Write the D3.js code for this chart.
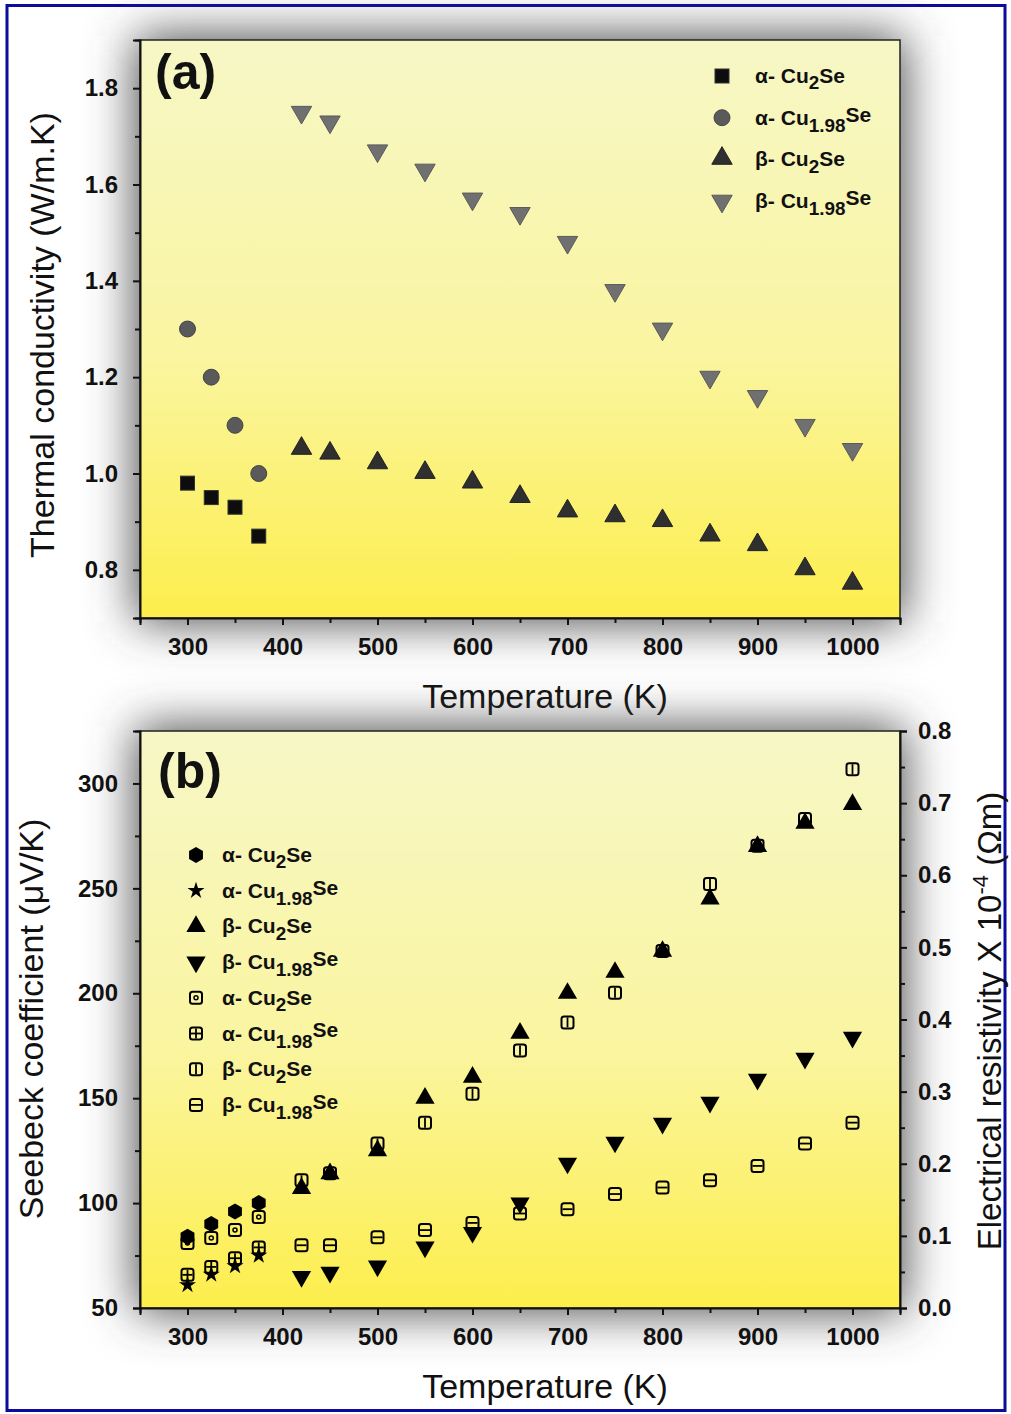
<!DOCTYPE html>
<html>
<head>
<meta charset="utf-8">
<script src="https://cdn.jsdelivr.net/npm/d3@7"></script>
<style>
  body { margin: 0; background: #fff; }
  text { font-family: "Liberation Sans", Arial, sans-serif; }
</style>
</head>
<body>
<div id="chart"></div>
<script>
// temperatures (K)
const tempAlpha = [300, 325, 350, 375];
const tempBeta = [420, 450, 500, 550, 600, 650, 700, 750, 800, 850, 900, 950, 1000];

// (a) thermal conductivity (W/m.K)
const kAlphaCu2Se = [0.98, 0.95, 0.93, 0.87];
const kAlphaCu198Se = [1.30, 1.20, 1.10, 1.00];
const kBetaCu2Se = [1.05, 1.04, 1.02, 1.00, 0.98, 0.95, 0.92, 0.91, 0.90, 0.87, 0.85, 0.80, 0.77];
const kBetaCu198Se = [1.75, 1.73, 1.67, 1.63, 1.57, 1.54, 1.48, 1.38, 1.30, 1.20, 1.16, 1.10, 1.05];

// (b) seebeck coefficient (uV/K)
const sAlphaCu2Se = [84, 90, 96, 100];
const sAlphaCu198Se = [61, 66, 70, 75];
const sBetaCu2Se = [107, 114, 125, 150, 160, 181, 200, 210, 220, 245, 270, 281, 290];
const sBetaCu198Se = [65, 67, 70, 79, 86, 100, 119, 129, 138, 148, 159, 169, 179];

// (b) electrical resistivity (x 10^-4 Ohm m)
const rAlphaCu2Se = [0.09, 0.097, 0.108, 0.126];
const rAlphaCu198Se = [0.046, 0.057, 0.069, 0.084];
const rBetaCu2Se = [0.177, 0.187, 0.228, 0.257, 0.297, 0.357, 0.396, 0.437, 0.495, 0.588, 0.641, 0.678, 0.747];
const rBetaCu198Se = [0.087, 0.087, 0.098, 0.108, 0.118, 0.131, 0.137, 0.158, 0.167, 0.177, 0.197, 0.228, 0.257];

// legend labels
const phases = ['α-', 'α-', 'β-', 'β-'];
const subs = ['2', '1.98', '2', '1.98'];

// ticks
const xMajor = [300, 400, 500, 600, 700, 800, 900, 1000];
const xMinor = [250, 350, 450, 550, 650, 750, 850, 950, 1050];
const kMajor = [0.8, 1.0, 1.2, 1.4, 1.6, 1.8];
const kMinor = [0.7, 0.9, 1.1, 1.3, 1.5, 1.7, 1.9];
const sMajor = [50, 100, 150, 200, 250, 300];
const sMinor = [75, 125, 175, 225, 275, 325];
const rMajor = [0, 0.1, 0.2, 0.3, 0.4, 0.5, 0.6, 0.7, 0.8];
const rMinor = [0.05, 0.15, 0.25, 0.35, 0.45, 0.55, 0.65, 0.75];

const W = 1011, H = 1414;
const left = 140, right = 900;

const svg = d3.select('#chart').append('svg')
  .attr('width', W).attr('height', H);

const defs = svg.append('defs');
const blur = defs.append('filter').attr('id', 'halo')
  .attr('x', '-30%').attr('y', '-30%').attr('width', '160%').attr('height', '160%');
blur.append('feGaussianBlur').attr('stdDeviation', 24);

const grad = defs.append('linearGradient').attr('id', 'yellow')
  .attr('x1', 0).attr('y1', 0).attr('x2', 0).attr('y2', 1);
grad.append('stop').attr('offset', '0%').attr('stop-color', '#f7f7c6');
grad.append('stop').attr('offset', '55%').attr('stop-color', '#faf5a0');
grad.append('stop').attr('offset', '100%').attr('stop-color', '#fdee4c');

const x = d3.scaleLinear().domain([250, 1050]).range([left, right]);
const ya = d3.scaleLinear().domain([0.7, 1.9]).range([618, 40]);
const yb = d3.scaleLinear().domain([50, 325]).range([1308, 731]);
const yr = d3.scaleLinear().domain([0, 0.8]).range([1308, 731]);

function frame(top, bottom) {
  svg.append('rect')
    .attr('x', left - 4).attr('y', top - 4)
    .attr('width', right - left + 8).attr('height', bottom - top + 8)
    .attr('fill', '#4a4a4a')
    .attr('filter', 'url(#halo)');
  svg.append('rect')
    .attr('x', left).attr('y', top)
    .attr('width', right - left).attr('height', bottom - top)
    .attr('fill', 'url(#yellow)')
    .attr('stroke', '#222').attr('stroke-width', 1.5);
}

function styleAxis(g, size) {
  g.select('.domain').attr('stroke', '#111').attr('stroke-width', 2);
  g.selectAll('.tick line').attr('stroke', '#111').attr('stroke-width', 2);
  g.selectAll('.tick text')
    .attr('font-size', size).attr('font-weight', 'bold').attr('fill', '#111')
    .attr('font-family', '"Liberation Sans", Arial, sans-serif');
}

function xAxis(yPos) {
  const g = svg.append('g').attr('transform', `translate(0,${yPos})`);
  g.call(d3.axisBottom(x).tickValues(xMajor).tickSize(7).tickPadding(13).tickFormat(d3.format('d')));
  styleAxis(g, 24);
  const m = svg.append('g').attr('transform', `translate(0,${yPos})`);
  m.call(d3.axisBottom(x).tickValues(xMinor).tickSize(5).tickFormat(''));
  styleAxis(m, 24);
  m.select('.domain').remove();
}

function yAxis(scale, major, minor, fmt, xPos, side) {
  const axisFn = side === 'left' ? d3.axisLeft : d3.axisRight;
  const g = svg.append('g').attr('transform', `translate(${xPos},0)`);
  g.call(axisFn(scale).tickValues(major).tickSize(7).tickPadding(side === 'left' ? 15 : 11).tickFormat(fmt));
  styleAxis(g, 24);
  const m = svg.append('g').attr('transform', `translate(${xPos},0)`);
  m.call(axisFn(scale).tickValues(minor).tickSize(5).tickFormat(''));
  styleAxis(m, 24);
  m.select('.domain').remove();
}

function title(txt, cx, cy, rotate) {
  const t = svg.append('text')
    .attr('font-size', 34).attr('fill', '#111')
    .attr('text-anchor', 'middle')
    .attr('transform', `translate(${cx},${cy})` + (rotate ? ' rotate(-90)' : ''));
  return t.text(txt);
}

function legendText(g, phase, sub, fs) {
  const t = g.append('text').attr('font-size', fs).attr('font-weight', 'bold').attr('fill', '#111');
  t.append('tspan').text(phase + ' Cu');
  if (sub === '2') {
    t.append('tspan').attr('dy', fs * 0.3).attr('font-size', fs * 0.9).text(sub);
    t.append('tspan').attr('dy', -fs * 0.3).text('Se');
  } else {
    t.append('tspan').attr('dy', fs * 0.35).attr('font-size', fs * 0.9).text(sub);
    t.append('tspan').attr('dy', -fs * 0.5).text('Se');
  }
}

// shapes
const sym = (type, size) => d3.symbol().type(type).size(size)();
const hexPath = (r) => d3.line()(d3.range(6).map(i => {
  const a = Math.PI / 6 + i * Math.PI / 3;
  return [r * Math.cos(a), r * Math.sin(a)];
})) + 'Z';

// marker drawers
function markA(g, kind) {
  if (kind === 0) g.append('rect').attr('x', -7).attr('y', -7).attr('width', 14).attr('height', 14)
    .attr('fill', '#0d0d0d').attr('stroke', '#333').attr('stroke-width', 1);
  if (kind === 1) g.append('path').attr('d', sym(d3.symbolCircle, 200))
    .attr('fill', '#5a5a5a').attr('stroke', '#444').attr('stroke-width', 1);
  if (kind === 2) g.append('path').attr('d', sym(d3.symbolTriangle, 180)).attr('transform', 'translate(0,-1)')
    .attr('fill', '#2f2f2f').attr('stroke', '#222').attr('stroke-width', 1);
  if (kind === 3) g.append('path').attr('d', sym(d3.symbolTriangle, 180)).attr('transform', 'rotate(180)')
    .attr('fill', '#707070').attr('stroke', '#5a5a5a').attr('stroke-width', 1);
}

function markB(g, kind) {
  if (kind === 0) g.append('path').attr('d', hexPath(8)).attr('fill', '#000');
  if (kind === 1) g.append('path').attr('d', sym(d3.symbolStar, 90)).attr('fill', '#000');
  if (kind === 2) g.append('path').attr('d', sym(d3.symbolTriangle, 160)).attr('fill', '#000');
  if (kind === 3) g.append('path').attr('d', sym(d3.symbolTriangle, 160)).attr('transform', 'rotate(180)').attr('fill', '#000');
  if (kind >= 4) {
    g.append('rect').attr('x', -6).attr('y', -6).attr('width', 12).attr('height', 12).attr('rx', 2.5)
      .attr('fill', 'none').attr('stroke', '#000').attr('stroke-width', 2);
    if (kind === 4) g.append('circle').attr('r', 2).attr('fill', 'none').attr('stroke', '#000').attr('stroke-width', 1.5);
    if (kind === 5 || kind === 6) g.append('line').attr('x1', 0).attr('x2', 0).attr('y1', -5).attr('y2', 5).attr('stroke', '#000').attr('stroke-width', 1.8);
    if (kind === 5 || kind === 7) g.append('line').attr('x1', -5).attr('x2', 5).attr('y1', 0).attr('y2', 0).attr('stroke', '#000').attr('stroke-width', 1.8);
  }
}

function plotSeries(temps, vals, yScale, drawFn, kind) {
  const pts = temps.map((t, i) => ({ t, v: vals[i] }));
  svg.append('g').selectAll('g').data(pts).enter().append('g')
    .attr('transform', d => `translate(${x(d.t)},${yScale(d.v)})`)
    .each(function () { drawFn(d3.select(this), kind); });
}

// page border
svg.append('rect').attr('x', 7).attr('y', 5.5).attr('width', W - 13).attr('height', H - 9)
  .attr('fill', 'none').attr('stroke', '#0b0b9c').attr('stroke-width', 3);

// ---------- panel (a)
frame(40, 618);
xAxis(618);
yAxis(ya, kMajor, kMinor, d3.format('.1f'), left, 'left');
title('Temperature (K)', 545, 708, false);
title('Thermal conductivity (W/m.K)', 54, 335, true);
svg.append('text').attr('x', 155).attr('y', 89).attr('font-size', 50).attr('font-weight', 'bold')
  .attr('fill', '#111').text('(a)');

plotSeries(tempAlpha, kAlphaCu2Se, ya, markA, 0);
plotSeries(tempAlpha, kAlphaCu198Se, ya, markA, 1);
plotSeries(tempBeta, kBetaCu2Se, ya, markA, 2);
plotSeries(tempBeta, kBetaCu198Se, ya, markA, 3);

phases.forEach((p, i) => {
  const row = svg.append('g').attr('transform', `translate(722,${76 + i * 41.7})`);
  markA(row, i);
  legendText(row.append('g').attr('transform', 'translate(33,7)'), p, subs[i], 21);
});

// ---------- panel (b)
frame(731, 1308);
xAxis(1308);
yAxis(yb, sMajor, sMinor, d3.format('d'), left, 'left');
yAxis(yr, rMajor, rMinor, d3.format('.1f'), right, 'right');
title('Temperature (K)', 545, 1398, false);
title('Seebeck coefficient (μV/K)', 43, 1019, true);
const rt = svg.append('text').attr('font-size', 33).attr('fill', '#111').attr('text-anchor', 'middle')
  .attr('transform', 'translate(1001,1021) rotate(-90)');
rt.append('tspan').text('Electrical resistivity X 10');
rt.append('tspan').attr('dy', -13).attr('font-size', 22).text('-4');
rt.append('tspan').attr('dy', 13).text(' (Ωm)');
svg.append('text').attr('x', 158).attr('y', 788).attr('font-size', 50).attr('font-weight', 'bold')
  .attr('fill', '#111').text('(b)');

plotSeries(tempAlpha, rAlphaCu2Se, yr, markB, 4);
plotSeries(tempAlpha, rAlphaCu198Se, yr, markB, 5);
plotSeries(tempBeta, rBetaCu2Se, yr, markB, 6);
plotSeries(tempBeta, rBetaCu198Se, yr, markB, 7);
plotSeries(tempAlpha, sAlphaCu2Se, yb, markB, 0);
plotSeries(tempAlpha, sAlphaCu198Se, yb, markB, 1);
plotSeries(tempBeta, sBetaCu2Se, yb, markB, 2);
plotSeries(tempBeta, sBetaCu198Se, yb, markB, 3);

const legendB = phases.concat(phases);
const subsB = subs.concat(subs);
legendB.forEach((p, i) => {
  const row = svg.append('g').attr('transform', `translate(196,${855 + i * 35.7})`);
  markB(row, i);
  legendText(row.append('g').attr('transform', 'translate(26,7)'), p, subsB[i], 21);
});
</script>
</body>
</html>
